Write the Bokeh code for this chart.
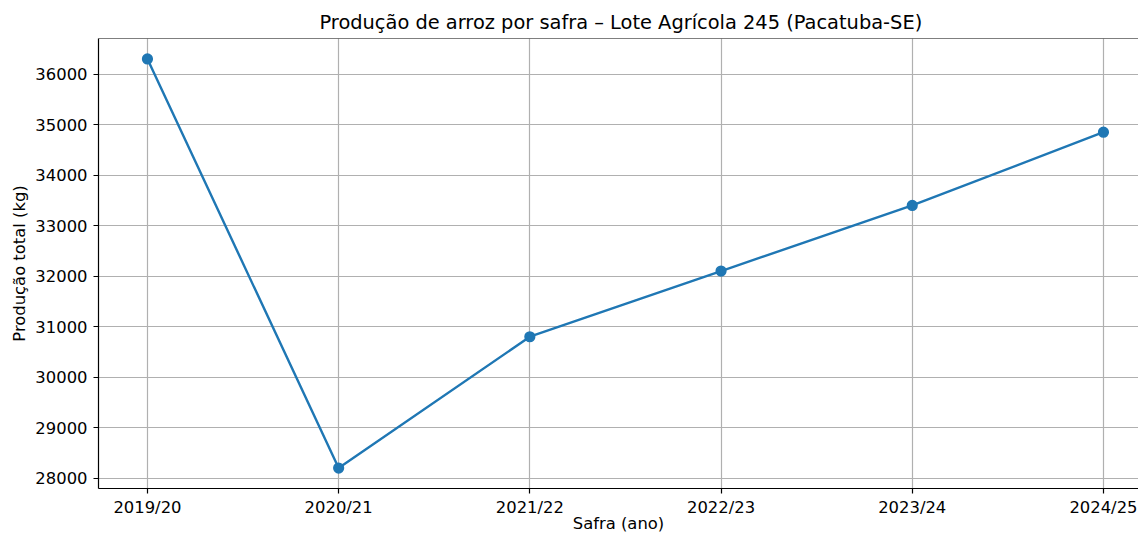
from bokeh.plotting import figure
from bokeh.models import Range1d, FixedTicker, Span
from bokeh.embed import file_html
from bokeh.resources import INLINE

safras = ["2019/20", "2020/21", "2021/22", "2022/23", "2023/24", "2024/25"]
producao_kg = [36300, 28200, 30800, 32100, 33400, 34850]
y_ticks = [28000, 29000, 30000, 31000, 32000, 33000, 34000, 35000, 36000]

xs = list(range(len(safras)))
ymin, ymax = min(producao_kg), max(producao_kg)
pad = (ymax - ymin) * 0.05
y_bottom, y_top = ymin - pad, ymax + pad

FONT = "DejaVu Sans"
W, H = 1138, 537
B_LEFT, B_TOP, B_BOTTOM = 98, 38, 49
px_per_cat = 191.2
x_left = -0.256
x_right = x_left + (W - B_LEFT) / px_per_cat

p = figure(width=W, height=H, output_backend="svg", toolbar_location=None,
           x_range=Range1d(x_left, x_right), y_range=Range1d(y_bottom, y_top),
           title="Produção de arroz por safra – Lote Agrícola 245 (Pacatuba-SE)",
           min_border_left=B_LEFT, min_border_right=0, min_border_top=B_TOP,
           min_border_bottom=B_BOTTOM)

p.title.text_font = FONT
p.title.text_font_size = "19.4px"
p.title.text_font_style = "normal"
p.title.text_color = "#000000"
p.title.align = "left"
p.title.offset = 221
p.title.standoff = 9

p.outline_line_color = None
p.background_fill_color = "white"
p.border_fill_color = "white"

for ax in (p.xaxis[0], p.yaxis[0]):
    ax.axis_line_color = "black"
    ax.axis_line_width = 1.2
    ax.major_tick_line_color = "black"
    ax.major_tick_line_width = 1.2
    ax.major_tick_out = 5
    ax.major_tick_in = 0
    ax.minor_tick_line_color = None
    ax.major_label_text_font = FONT
    ax.major_label_text_font_size = "16.4px"
    ax.major_label_text_color = "#000000"
    ax.axis_label_text_font = FONT
    ax.axis_label_text_font_size = "16.4px"
    ax.axis_label_text_font_style = "normal"
    ax.axis_label_text_color = "#000000"

p.xaxis.ticker = FixedTicker(ticks=xs)
p.xaxis.major_label_overrides = {i: s for i, s in enumerate(safras)}
p.xaxis.axis_label = "Safra (ano)"
p.xaxis.major_label_standoff = 4
p.xaxis.axis_label_standoff = -6

p.yaxis.ticker = FixedTicker(ticks=y_ticks)
p.yaxis.axis_label = "Produção total (kg)"
p.yaxis.major_label_standoff = 6
p.yaxis.axis_label_standoff = 3

p.grid.grid_line_color = "#b0b0b0"
p.grid.grid_line_width = 1.2

p.add_layout(Span(location=y_top, dimension="width", line_color="black", line_width=1.2))

p.line(xs, producao_kg, line_color="#1f77b4", line_width=2.4)
p.scatter(xs, producao_kg, size=9.6, fill_color="#1f77b4", line_color="#1f77b4", line_width=1.6)

open("out.html", "w").write(file_html(p, INLINE))
